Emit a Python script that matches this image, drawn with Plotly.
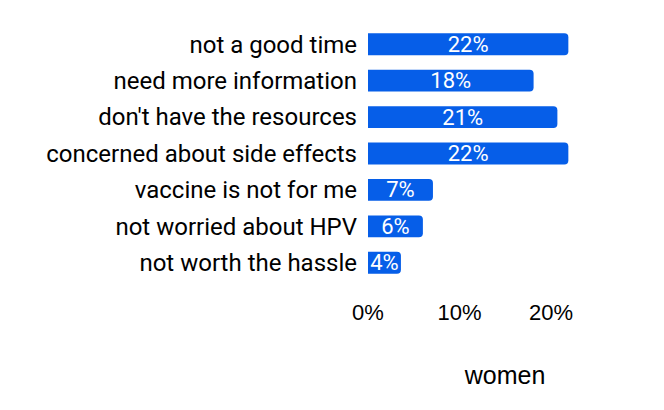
import plotly.graph_objects as go

categories = ["not a good time", "need more information", "don't have the resources",
              "concerned about side effects", "vaccine is not for me",
              "not worried about HPV", "not worth the hassle"]
values = [0.219, 0.181, 0.207, 0.219, 0.071, 0.060, 0.036]
tick_vals = [0, 0.1, 0.2]
tick_text = ["0%", "10%", "20%"]

fig = go.Figure(go.Bar(
    x=values, y=categories, orientation="h",
    marker=dict(color="#065ee8", line=dict(width=0)),
    texttemplate="%{x:.0%}", textposition="inside", insidetextanchor="middle",
    constraintext="none",
    textfont=dict(family="Roboto", size=22, color="white"),
    hoverinfo="skip",
))
fig.update_layout(
    width=664, height=410,
    margin=dict(l=368, r=22, t=26, b=129),
    plot_bgcolor="white", paper_bgcolor="white",
    bargap=0.4, barcornerradius=4,
    showlegend=False,
    uniformtext=dict(minsize=22, mode="show"),
    xaxis=dict(range=[0, 0.2995], tickvals=tick_vals, ticktext=tick_text,
               showgrid=False, zeroline=False, showline=False,
               tickfont=dict(family="Liberation Sans, Arial", size=22, color="black"),
               ticklabelstandoff=16,
               title=dict(text="women", font=dict(family="Liberation Sans, Arial", size=25, color="black"), standoff=42)),
    yaxis=dict(autorange="reversed", showgrid=False, zeroline=False, showline=False,
               tickfont=dict(family="Roboto", size=24, color="black"),
               ticklabelstandoff=10),
)
fig.write_html("out.html")
